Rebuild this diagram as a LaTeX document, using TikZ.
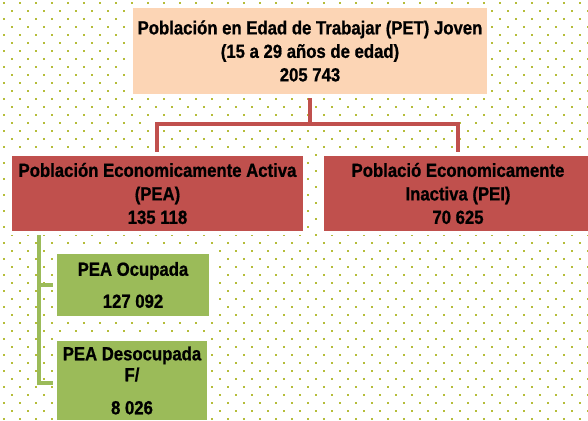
\documentclass[tikz,border=0pt]{standalone}
\usepackage{fontspec}
\setmainfont{Liberation Sans}[FakeStretch=0.88,BoldFeatures={FakeBold=0.8}]
\definecolor{peach}{RGB}{252,213,181}
\definecolor{redbox}{RGB}{192,80,77}
\definecolor{greenbox}{RGB}{155,187,89}
\definecolor{dotc}{RGB}{181,189,57}
\tikzset{
  box/.style={inner sep=0pt, align=center,
    font=\bfseries\fontsize{19}{23.5}\selectfont},
  gbox/.style={box, fill=greenbox, font=\bfseries\fontsize{19}{21}\selectfont},
  redline/.style={draw=redbox, line width=4pt},
  greenline/.style={draw=greenbox, line width=3.4pt},
  halo/.style={draw=white, line width=4pt}
}
\begin{document}
\begin{tikzpicture}[x=1pt,y=-1pt]
\clip (0,0) rectangle (588,420);
\fill[white] (0,0) rectangle (588,420);
% dotted background
\foreach \k in {0,...,52}{
  \pgfmathsetmacro{\yy}{2.7+8*\k}
  \pgfmathsetmacro{\xo}{ifthenelse(mod(\k,2)==0,4,12)}
  \foreach \m in {0,...,36}{
    \fill[dotc] ({\xo+16*\m-1},{\yy-1}) rectangle ++(2,2);
  }
}
\coordinate (hL) at (157,124);
\coordinate (hM) at (310,124);
\coordinate (hR) at (458,124);
\node[box, fill=peach, minimum width=354, minimum height=86] (top) at (310,51)
  {Población en Edad de Trabajar (PET) Joven\\(15 a 29 años de edad)\\205 743};
\node[box, fill=redbox, minimum width=291, minimum height=75] (pea) at (157.5,193.5)
  {Población Economicamente Activa\\(PEA)\\135 118};
\node[box, fill=redbox, minimum width=268, minimum height=75] (pei) at (458,193.5)
  {Poblaci\'o Economicamente\\Inactiva (PEI)\\70 625};
\node[gbox, minimum width=152, minimum height=62] (ocu) at (133,285)
  {PEA Ocupada\\[11pt]127 092};
\node[gbox, minimum width=150, minimum height=79] (deso) at (132,380.5)
  {PEA Desocupada\\F/\\[12pt]8 026};
\coordinate (gTop) at (39,231);
\coordinate (g1) at (39,285);
\coordinate (g2) at (39,383);
\draw[redline] (hM) -- (hM |- top.south);
\draw[redline] (hL |- pea.north) -- (hL) -- (hR) -- (hR |- pei.north);
\draw[greenline] (gTop) -- (g2) -- (g2 -| deso.west);
\draw[greenline] (g1) -- (g1 -| ocu.west);
% white borders round the boxes, covering the connector ends
\foreach \n in {top,pea,pei,ocu,deso}{
  \draw[halo] ([shift={(-2,2)}]\n.south west) rectangle ([shift={(2,-2)}]\n.north east);
}
\end{tikzpicture}
\end{document}
